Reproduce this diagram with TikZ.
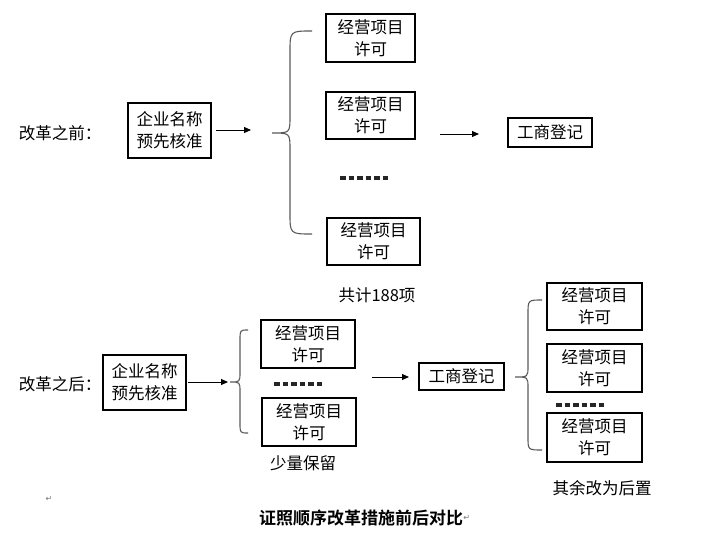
\documentclass[tikz,border=0pt]{standalone}
\usepackage{fontspec}
\setmainfont{Noto Sans CJK SC}
\newfontfamily\cjkbold{Noto Sans CJK SC}[BoldFont={Noto Sans CJK SC Bold}]
\newfontfamily\symfont{DejaVu Sans}
\usetikzlibrary{arrows.meta}
\begin{document}
\begin{tikzpicture}[x=1pt,y=-1pt,
  box/.style={draw,line width=1.2pt,inner sep=0pt,align=center,font=\fontsize{16.5}{22}\selectfont},
  lbl/.style={inner sep=0pt,font=\fontsize{16.5}{22}\selectfont},
  arr/.style={line width=1pt,-{Triangle[length=7pt,width=6pt]}},
  brace/.style={line width=1.1pt,draw=black!65},
  dots/.style={line width=3.2pt,dash pattern=on 5.5pt off 3pt,draw=black!85},
  ret/.style={inner sep=0pt,text=black!55,font=\symfont\fontsize{8}{8}\selectfont}]
\useasboundingbox (0,0) rectangle (711,535);
% ---------- before ----------
\node[lbl] (before) at (60,133) {改革之前：};
\node[box,minimum width=83pt,minimum height=55pt] (A0) at (169.5,130.5) {企业名称\\预先核准};
\node[box,minimum width=89pt,minimum height=48pt] (T1) at (370.5,38) {经营项目\\许可};
\node[box,minimum width=89pt,minimum height=47pt] (T2) at (370.5,115.5) {经营项目\\许可};
\node[box,minimum width=93pt,minimum height=47pt] (T3) at (373.5,241.5) {经营项目\\许可};
\node[box,minimum width=84pt,minimum height=29pt] (G0) at (550,132.5) {工商登记};
\node[lbl] (total) at (377,295) {共计188项};
\coordinate (a0s) at (216,130);
\coordinate (a0e) at (251,130);
\draw[arr] (a0s) -- (a0e);
\coordinate (a1s) at (440,134);
\coordinate (a1e) at (479,134);
\draw[arr] (a1s) -- (a1e);
\coordinate (d0s) at (340,178);
\coordinate (d0e) at (390,178);
\draw[dots] (d0s) -- (d0e);
\draw[brace] (312,31) .. controls (290,31) .. (290,52) -- (290,116) .. controls (290,133) .. (272,133)
  .. controls (290,133) .. (290,150) -- (290,213) .. controls (290,234) .. (312,234);
% ---------- after ----------
\node[lbl] (after) at (60,384) {改革之后：};
\node[box,minimum width=83pt,minimum height=55pt] (A1) at (144.5,382.5) {企业名称\\预先核准};
\node[box,minimum width=94pt,minimum height=48pt] (B1) at (308,344) {经营项目\\许可};
\node[box,minimum width=94pt,minimum height=48pt] (B2) at (309,422) {经营项目\\许可};
\node[lbl] (few) at (303,463) {少量保留};
\node[box,minimum width=85pt,minimum height=27pt] (G1) at (461.5,376.5) {工商登记};
\node[box,minimum width=95pt,minimum height=47pt] (C1) at (594.5,306.5) {经营项目\\许可};
\node[box,minimum width=95pt,minimum height=48pt] (C2) at (594.5,368) {经营项目\\许可};
\node[box,minimum width=95pt,minimum height=49pt] (C3) at (594.5,437.5) {经营项目\\许可};
\node[lbl] (rest) at (602,488) {其余改为后置};
\coordinate (a2s) at (188,382);
\coordinate (a2e) at (228,382);
\draw[arr] (a2s) -- (a2e);
\coordinate (a3s) at (372,377);
\coordinate (a3e) at (409,377);
\draw[arr] (a3s) -- (a3e);
\coordinate (d1s) at (274,384);
\coordinate (d1e) at (323,384);
\draw[dots] (d1s) -- (d1e);
\coordinate (d2s) at (556,405);
\coordinate (d2e) at (605,405);
\draw[dots] (d2s) -- (d2e);
\draw[brace] (248,330) .. controls (240,330) .. (240,340) -- (240,372) .. controls (240,382) .. (230,382)
  .. controls (240,382) .. (240,392) -- (240,423) .. controls (240,433) .. (248,433);
\draw[brace] (542,300) .. controls (528,300) .. (528,314) -- (528,366) .. controls (528,377) .. (515,377)
  .. controls (528,377) .. (528,388) -- (528,437) .. controls (528,450) .. (542,450);
% ---------- caption ----------
\node[inner sep=0pt,font=\cjkbold\bfseries\fontsize{17}{20}\selectfont] (cap) at (361,518) {证照顺序改革措施前后对比};
\node[ret,anchor=west] (r2) at (cap.east) {↵};
\node[ret] (r1) at (49,499) {↵};
\end{tikzpicture}
\end{document}
